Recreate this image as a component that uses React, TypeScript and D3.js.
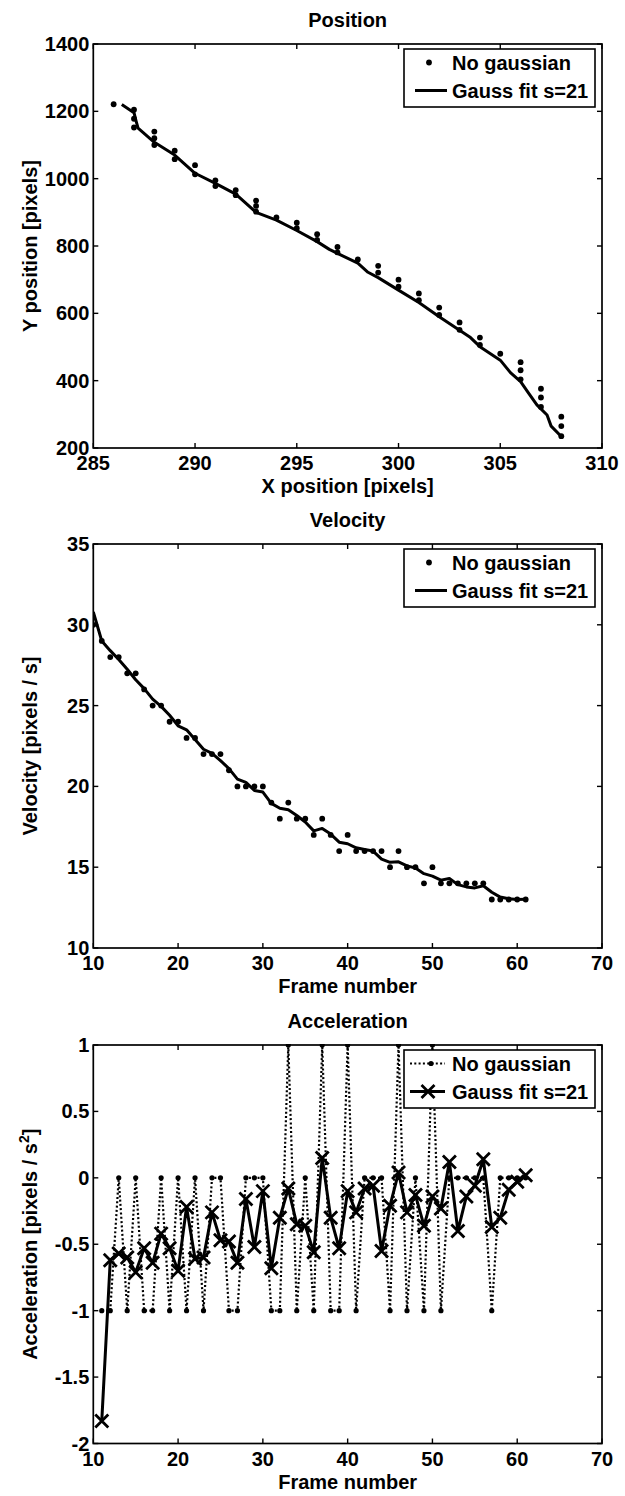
import React from 'react';
import * as d3 from 'd3';

// ---------- DATA ----------
// Position panel: raw points (no gaussian)
const posX = [286, 287, 287, 287, 288, 288, 288, 289, 289, 290, 290, 291, 291, 292, 292, 293, 293, 293, 294, 295, 295, 296, 296, 297, 297, 298, 299, 299, 300, 300, 301, 301, 302, 302, 303, 303, 304, 304, 305, 306, 306, 306, 307, 307, 307, 308, 308, 308];
const posY = [1221, 1205, 1178, 1152, 1140, 1120, 1100, 1083, 1058, 1040, 1013, 995, 978, 966, 951, 935, 919, 902, 885, 869, 853, 835, 818, 797, 781, 760, 741, 721, 700, 679, 659, 639, 617, 595, 573, 551, 528, 506, 480, 455, 431, 404, 376, 350, 322, 293, 265, 235];
// Position panel: Gauss fit line
const gaussPosX = [286.4, 287.0, 287.1, 287.2, 288, 289, 290, 291, 292, 293, 294, 295, 296, 296.6, 297, 298, 298.5, 299, 300, 301, 302, 303, 303.5, 304, 305, 305.5, 306, 306.4, 306.8, 307.3, 307.5, 308];
const gaussPosY = [1220, 1196, 1172, 1150, 1108, 1070, 1016, 986, 954, 900, 877, 846, 813, 790, 778, 749, 722, 706, 669, 632, 590, 550, 530, 501, 461, 424, 397, 362, 328, 298, 265, 234];

// Velocity panel
const velFrames = [10, 11, 12, 13, 14, 15, 16, 17, 18, 19, 20, 21, 22, 23, 24, 25, 26, 27, 28, 29, 30, 31, 32, 33, 34, 35, 36, 37, 38, 39, 40, 41, 42, 43, 44, 45, 46, 47, 48, 49, 50, 51, 52, 53, 54, 55, 56, 57, 58, 59, 60, 61];
const velRaw = [30, 29, 28, 28, 27, 27, 26, 25, 25, 24, 24, 23, 23, 22, 22, 22, 21, 20, 20, 20, 20, 19, 18, 19, 18, 18, 17, 18, 17, 16, 17, 16, 16, 16, 16, 15, 16, 15, 15, 14, 15, 14, 14, 14, 14, 14, 14, 13, 13, 13, 13, 13];
const velGauss = [30.8, 29.0, 28.4, 27.85, 27.25, 26.6, 26.05, 25.4, 24.95, 24.4, 23.75, 23.5, 22.9, 22.3, 22.05, 21.6, 21.1, 20.45, 20.25, 19.75, 19.65, 18.95, 18.65, 18.55, 18.2, 17.8, 17.25, 17.4, 17.05, 16.55, 16.45, 16.2, 16.1, 16.0, 15.5, 15.3, 15.33, 15.08, 14.95, 14.6, 14.45, 14.2, 14.3, 13.92, 13.78, 13.72, 13.85, 13.45, 13.15, 13.05, 13.0, 13.02];

// Acceleration panel
const accFrames = [11, 12, 13, 14, 15, 16, 17, 18, 19, 20, 21, 22, 23, 24, 25, 26, 27, 28, 29, 30, 31, 32, 33, 34, 35, 36, 37, 38, 39, 40, 41, 42, 43, 44, 45, 46, 47, 48, 49, 50, 51, 52, 53, 54, 55, 56, 57, 58, 59, 60, 61];
const accRaw = [-1, -1, 0, -1, 0, -1, -1, 0, -1, 0, -1, 0, -1, 0, 0, -1, -1, 0, 0, 0, -1, -1, 1, -1, 0, -1, 1, -1, -1, 1, -1, 0, 0, 0, -1, 1, -1, 0, -1, 1, -1, 0, 0, 0, 0, 0, -1, 0, 0, 0, 0];
const accGauss = [-1.83, -0.62, -0.57, -0.6, -0.71, -0.53, -0.64, -0.42, -0.53, -0.7, -0.22, -0.61, -0.6, -0.26, -0.47, -0.48, -0.64, -0.16, -0.52, -0.1, -0.68, -0.3, -0.08, -0.35, -0.36, -0.56, 0.15, -0.3, -0.53, -0.1, -0.26, -0.08, -0.06, -0.55, -0.21, 0.04, -0.26, -0.13, -0.36, -0.14, -0.23, 0.12, -0.4, -0.14, -0.06, 0.14, -0.37, -0.3, -0.09, -0.03, 0.02];

// Ticks
const posXTicks = [285, 290, 295, 300, 305, 310];
const posYTicks = [200, 400, 600, 800, 1000, 1200, 1400];
const frameTicks = [10, 20, 30, 40, 50, 60, 70];
const velYTicks = [10, 15, 20, 25, 30, 35];
const accYTicks = [-2, -1.5, -1, -0.5, 0, 0.5, 1];

const legendLabels = ['No gaussian', 'Gauss fit s=21'];

// ---------- LAYOUT ----------
const W = 625;
const H = 1496;
const LEFT = 93.3;
const RIGHT = 602;
const FONT = "'Liberation Sans', Arial, Helvetica, sans-serif";
const FS = 20;
const TICK = 5;

type PanelProps = {
  top: number;
  bottom: number;
  xDomain: [number, number];
  yDomain: [number, number];
  xTicks: number[];
  yTicks: number[];
  title: string;
  xlabel: string;
  ylabel: React.ReactNode;
  children: (x: d3.ScaleLinear<number, number>, y: d3.ScaleLinear<number, number>) => React.ReactNode;
};

function Panel({ top, bottom, xDomain, yDomain, xTicks, yTicks, title, xlabel, ylabel, children }: PanelProps) {
  const x = d3.scaleLinear().domain(xDomain).range([LEFT, RIGHT]);
  const y = d3.scaleLinear().domain(yDomain).range([bottom, top]);
  const cx = (LEFT + RIGHT) / 2;
  const cy = (top + bottom) / 2;
  return (
    <g>
      <defs>
        <clipPath id={`clip${top}`}>
          <rect x={LEFT} y={top - 1} width={RIGHT - LEFT} height={bottom - top + 2} />
        </clipPath>
      </defs>
      <g clipPath={`url(#clip${top})`}>{children(x, y)}</g>
      <rect x={LEFT} y={top} width={RIGHT - LEFT} height={bottom - top} fill="none" stroke="#000" strokeWidth={1.7} />
      {xTicks.map((t) => (
        <g key={'xt' + t}>
          <line x1={x(t)} x2={x(t)} y1={bottom} y2={bottom - TICK} stroke="#000" strokeWidth={1.4} />
          <line x1={x(t)} x2={x(t)} y1={top} y2={top + TICK} stroke="#000" strokeWidth={1.4} />
          <text x={x(t)} y={bottom + 22} textAnchor="middle">{String(t)}</text>
        </g>
      ))}
      {yTicks.map((t) => (
        <g key={'yt' + t}>
          <line x1={LEFT} x2={LEFT + TICK} y1={y(t)} y2={y(t)} stroke="#000" strokeWidth={1.4} />
          <line x1={RIGHT} x2={RIGHT - TICK} y1={y(t)} y2={y(t)} stroke="#000" strokeWidth={1.4} />
          <text x={LEFT - 4} y={y(t) + 7} textAnchor="end">{String(t)}</text>
        </g>
      ))}
      <text x={cx} y={top - 17} textAnchor="middle">{title}</text>
      <text x={cx} y={bottom + 45} textAnchor="middle">{xlabel}</text>
      <text transform={`translate(37,${cy}) rotate(-90)`} textAnchor="middle">{ylabel}</text>
    </g>
  );
}

function Dot({ cx, cy, r = 2.9 }: { cx: number; cy: number; r?: number }) {
  return <circle cx={cx} cy={cy} r={r} fill="#000" />;
}

function XMark({ cx, cy }: { cx: number; cy: number }) {
  const s = 6.5;
  return (
    <path
      d={`M${cx - s},${cy - s}L${cx + s},${cy + s}M${cx - s},${cy + s}L${cx + s},${cy - s}`}
      stroke="#000"
      strokeWidth={2.8}
      fill="none"
    />
  );
}

function Legend({ top, kind }: { top: number; kind: 'dot' | 'acc' }) {
  const bx = 404;
  const bw = 191;
  const by = top + 5;
  const bh = 58;
  const r1 = top + 26;
  const r2 = top + 54;
  const mx = 428;
  return (
    <g>
      <rect x={bx} y={by} width={bw} height={bh} fill="#fff" stroke="#000" strokeWidth={1.6} />
      {kind === 'dot' ? (
        <>
          <Dot cx={429} cy={r1 - 7.5} />
          <line x1={415} x2={447} y1={r2 - 7.5} y2={r2 - 7.5} stroke="#000" strokeWidth={3} />
        </>
      ) : (
        <>
          <line x1={410} x2={445} y1={r1 - 7.5} y2={r1 - 7.5} stroke="#000" strokeWidth={2.2} strokeDasharray="2,2.3" />
          <Dot cx={mx + 3} cy={r1 - 7.5} r={2.6} />
          <line x1={410} x2={445} y1={r2 - 7.5} y2={r2 - 7.5} stroke="#000" strokeWidth={3} />
          <XMark cx={mx} cy={r2 - 7.5} />
        </>
      )}
      <text x={452} y={r1}>{legendLabels[0]}</text>
      <text x={452} y={r2}>{legendLabels[1]}</text>
    </g>
  );
}

export default function App() {
  const posPts = posX.map((v, i) => [v, posY[i]] as [number, number]);
  const posLine = gaussPosX.map((v, i) => [v, gaussPosY[i]] as [number, number]);

  return (
    <svg
      width={W}
      height={H}
      viewBox={`0 0 ${W} ${H}`}
      style={{ position: 'absolute', left: 0, top: 0, background: '#fff' }}
      fontFamily={FONT}
      fontWeight="bold"
      fontSize={FS}
    >
      <rect x={0} y={0} width={W} height={H} fill="#fff" />

      {/* Position */}
      <Panel
        top={44}
        bottom={448}
        xDomain={[285, 310]}
        yDomain={[200, 1400]}
        xTicks={posXTicks}
        yTicks={posYTicks}
        title="Position"
        xlabel="X position [pixels]"
        ylabel="Y position [pixels]"
      >
        {(x, y) => {
          const line = d3.line<[number, number]>().x((d) => x(d[0])).y((d) => y(d[1]));
          return (
            <>
              <path d={line(posLine) || ''} fill="none" stroke="#000" strokeWidth={3} strokeLinejoin="round" />
              {posPts.map((d, i) => (
                <Dot key={i} cx={x(d[0])} cy={y(d[1])} />
              ))}
            </>
          );
        }}
      </Panel>
      <Legend top={44} kind="dot" />

      {/* Velocity */}
      <Panel
        top={544}
        bottom={948}
        xDomain={[10, 70]}
        yDomain={[10, 35]}
        xTicks={frameTicks}
        yTicks={velYTicks}
        title="Velocity"
        xlabel="Frame number"
        ylabel="Velocity [pixels / s]"
      >
        {(x, y) => {
          const line = d3.line<number>().x((_, i) => x(velFrames[i])).y((d) => y(d));
          return (
            <>
              <path d={line(velGauss) || ''} fill="none" stroke="#000" strokeWidth={3} strokeLinejoin="round" />
              {velRaw.map((d, i) => (
                <Dot key={i} cx={x(velFrames[i])} cy={y(d)} />
              ))}
            </>
          );
        }}
      </Panel>
      <Legend top={544} kind="dot" />

      {/* Acceleration */}
      <Panel
        top={1045}
        bottom={1443.5}
        xDomain={[10, 70]}
        yDomain={[-2, 1]}
        xTicks={frameTicks}
        yTicks={accYTicks}
        title="Acceleration"
        xlabel="Frame number"
        ylabel={
          <>
            Acceleration [pixels / s
            <tspan baselineShift="super" fontSize={14}>2</tspan>
            <tspan>]</tspan>
          </>
        }
      >
        {(x, y) => {
          const line = d3.line<number>().x((_, i) => x(accFrames[i])).y((d) => y(d));
          return (
            <>
              <path d={line(accRaw) || ''} fill="none" stroke="#000" strokeWidth={2.2} strokeDasharray="2,2.3" />
              {accRaw.map((d, i) => (
                <Dot key={'r' + i} cx={x(accFrames[i])} cy={y(d)} r={2.6} />
              ))}
              <path d={line(accGauss) || ''} fill="none" stroke="#000" strokeWidth={3} strokeLinejoin="round" />
              {accGauss.map((d, i) => (
                <XMark key={'g' + i} cx={x(accFrames[i])} cy={y(d)} />
              ))}
            </>
          );
        }}
      </Panel>
      <Legend top={1045} kind="acc" />
    </svg>
  );
}
